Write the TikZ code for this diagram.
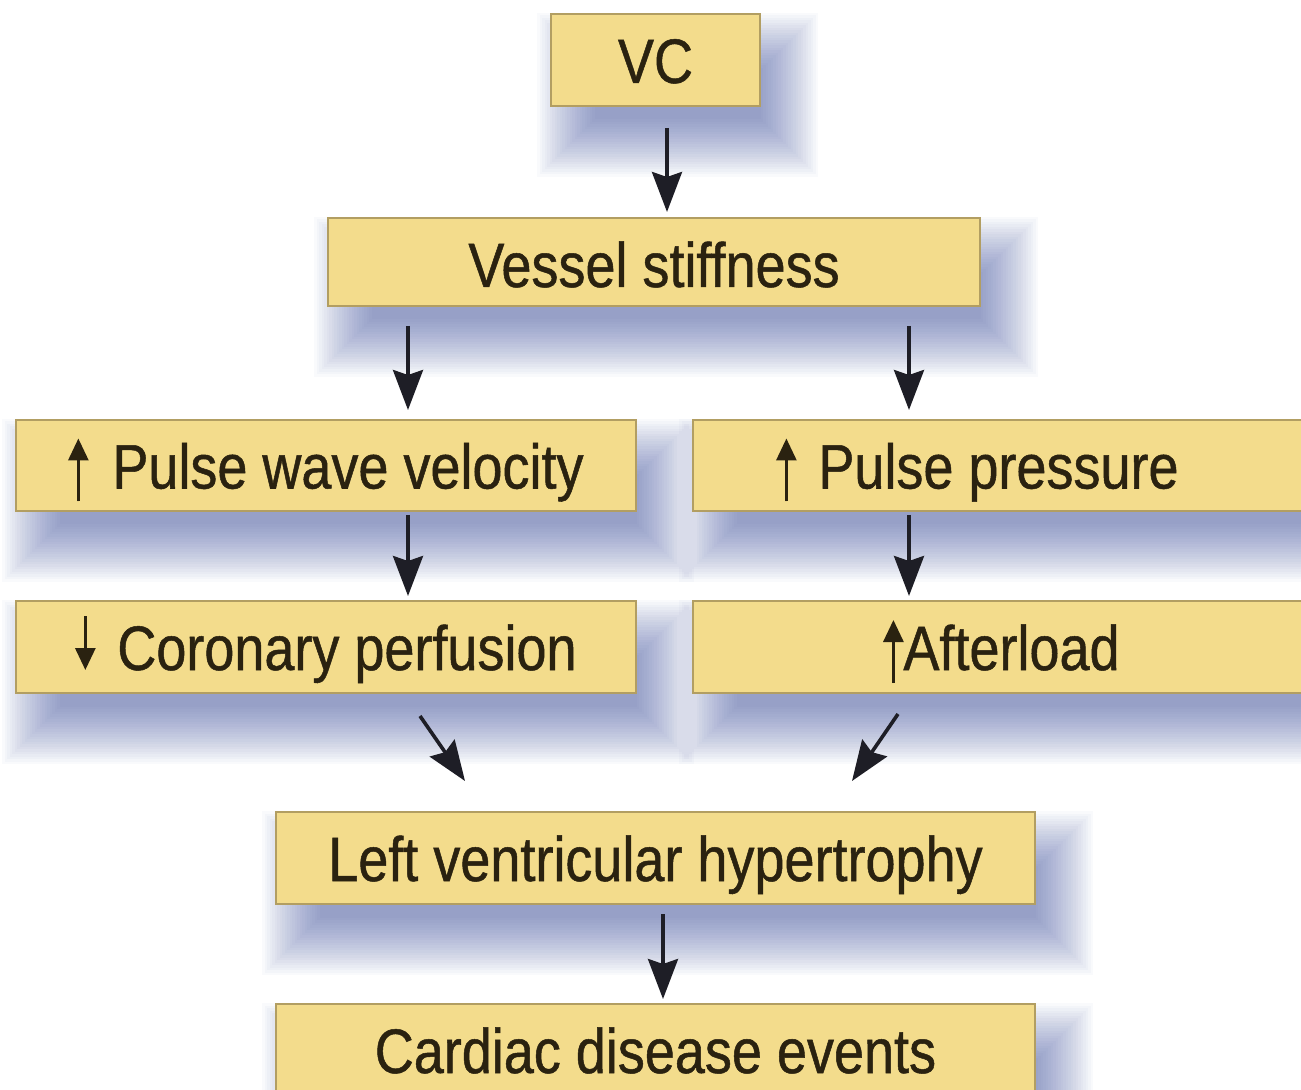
\documentclass[tikz,border=0pt]{standalone}
\usepackage{fontspec}
\setmainfont{Liberation Sans}[FakeStretch=0.86,FakeBold=0.8]
\usetikzlibrary{arrows.meta,backgrounds}
\definecolor{boxfill}{RGB}{243,220,140}
\definecolor{boxline}{RGB}{178,158,98}
\definecolor{txt}{RGB}{42,34,16}
\definecolor{shadowcol}{RGB}{60,75,160}
\definecolor{arrowcol}{RGB}{30,30,38}
\newcommand\myuparr{\tikz[baseline=0pt]{\coordinate (ua0) at (0pt,-6.5pt); \coordinate (ua1) at (0pt,25pt); \draw[draw=txt,fill=txt,line width=1.5pt,-{Triangle[length=11pt,width=10pt]}] (ua0) -- (ua1);}}
\newcommand\mydownarr{\tikz[baseline=0pt]{\coordinate (da0) at (0pt,27pt); \coordinate (da1) at (0pt,0pt); \draw[draw=txt,fill=txt,line width=1.5pt,-{Triangle[length=11pt,width=10pt]}] (da0) -- (da1);}}
\newcommand\shadowof[1]{\foreach \shk in {0,...,23}{\fill[shadowcol,opacity=0.027] ([shift={(-13+2.5*\shk,0+2.5*\shk)}]#1.north west) rectangle ([shift={(57-2.5*\shk,70-2.5*\shk)}]#1.south east);}}
\tikzset{
  fbox/.style={draw=boxline, fill=boxfill, line width=1pt, text=txt, inner sep=0pt,
    font=\fontsize{31.4}{36}\selectfont, text height=23pt, text depth=0pt},
  conn/.style={draw=arrowcol, line width=1.8pt, -{Stealth[length=20pt,width=15pt,inset=2.5pt]}}
}
\begin{document}
\begin{tikzpicture}[x=0.5pt,y=-0.5pt]
\useasboundingbox (0,0) rectangle (1301,1090);
\node[fbox, minimum width=104.5pt, minimum height=46pt] (vc) at (655.5,60) {VC};
\node[fbox, minimum width=326pt, minimum height=44pt, text height=25pt] (vs) at (654,262) {Vessel stiffness};
\node[fbox, minimum width=310pt, minimum height=45.5pt] (pwv) at (326,465.5) {\myuparr\hspace{12pt}Pulse wave velocity};
\node[fbox, minimum width=308.5pt, minimum height=45.5pt] (pp) at (1001.5,465.5) {\myuparr\hspace{11pt}Pulse pressure\hspace*{24pt}};
\node[fbox, minimum width=310pt, minimum height=46pt] (cp) at (326,647) {\mydownarr\hspace{11pt}Coronary perfusion};
\node[fbox, minimum width=308.5pt, minimum height=46pt] (al) at (1001.5,647) {\myuparr Afterload};
\node[fbox, minimum width=379.5pt, minimum height=46pt] (lvh) at (655.5,858) {Left ventricular hypertrophy};
\node[fbox, minimum width=379.5pt, minimum height=46pt] (cde) at (655.5,1050) {Cardiac disease events};
\begin{scope}[on background layer]
  \fill[white] (0,0) rectangle (1301,1090);
  \shadowof{vc}\shadowof{vs}\shadowof{pwv}\shadowof{pp}
  \shadowof{cp}\shadowof{al}\shadowof{lvh}\shadowof{cde}
\end{scope}
\draw[conn] ([shift={(11.5,21)}]vc.south) -- ([shift={(13,-5)}]vs.north);
\draw[conn] ([shift={(-246,19)}]vs.south) -- ([shift={(82,-9)}]pwv.north);
\draw[conn] ([shift={(255,19)}]vs.south) -- ([shift={(-92.5,-9)}]pp.north);
\draw[conn] ([shift={(82,3)}]pwv.south) -- ([shift={(82,-4)}]cp.north);
\draw[conn] ([shift={(-92.5,3)}]pp.south) -- ([shift={(-92.5,-4)}]al.north);
\draw[conn] ([shift={(94,22)}]cp.south) -- ([shift={(-190.5,-30)}]lvh.north);
\draw[conn] ([shift={(-103.5,20)}]al.south) -- ([shift={(196.5,-30)}]lvh.north);
\draw[conn] ([shift={(7.5,9)}]lvh.south) -- ([shift={(7.5,-4)}]cde.north);
\end{tikzpicture}
\end{document}
